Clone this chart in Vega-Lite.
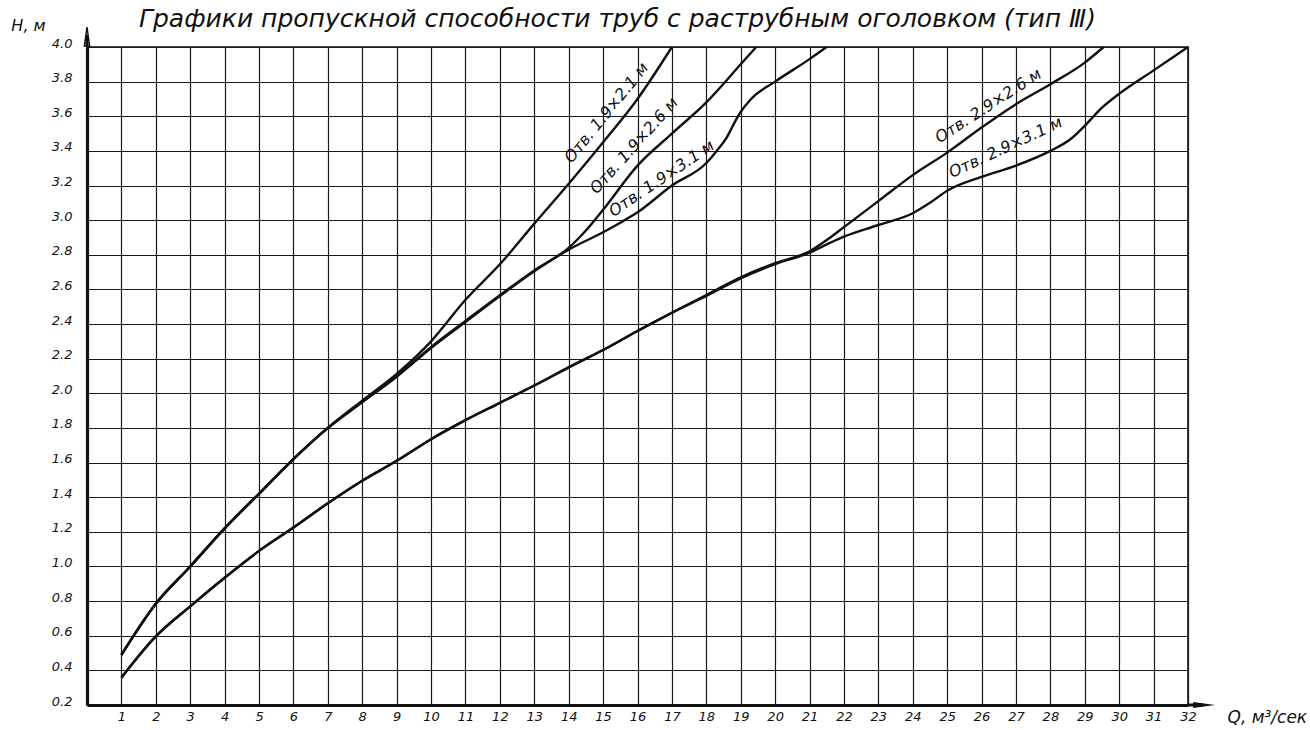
{
  "$schema": "https://vega.github.io/schema/vega-lite/v6.json",
  "width": 1101,
  "height": 658,
  "autosize": {"type": "none"},
  "padding": {"left": 87, "top": 47, "right": 122, "bottom": 25},
  "background": "white",
  "title": {
    "text": "Графики пропускной способности труб с раструбным оголовком (тип Ⅲ)",
    "font": "DejaVu Sans",
    "fontStyle": "italic",
    "fontWeight": "normal",
    "fontSize": 25,
    "color": "#111",
    "anchor": "middle",
    "dx": -20,
    "offset": -15
  },
  "config": {
    "view": {"stroke": "#111", "strokeWidth": 1.6},
    "font": "DejaVu Sans"
  },
  "datasets": {
    "curves": [
      {"series": "1.9x2.1", "Q": 1, "H": 0.49},
      {"series": "1.9x2.1", "Q": 2, "H": 0.785},
      {"series": "1.9x2.1", "Q": 3, "H": 1.0},
      {"series": "1.9x2.1", "Q": 4, "H": 1.22},
      {"series": "1.9x2.1", "Q": 5, "H": 1.42},
      {"series": "1.9x2.1", "Q": 6, "H": 1.62},
      {"series": "1.9x2.1", "Q": 7, "H": 1.8},
      {"series": "1.9x2.1", "Q": 8, "H": 1.958},
      {"series": "1.9x2.1", "Q": 9, "H": 2.112},
      {"series": "1.9x2.1", "Q": 10, "H": 2.3},
      {"series": "1.9x2.1", "Q": 11, "H": 2.54},
      {"series": "1.9x2.1", "Q": 12, "H": 2.745},
      {"series": "1.9x2.1", "Q": 13, "H": 2.98},
      {"series": "1.9x2.1", "Q": 14, "H": 3.21},
      {"series": "1.9x2.1", "Q": 15, "H": 3.45},
      {"series": "1.9x2.1", "Q": 16, "H": 3.7},
      {"series": "1.9x2.1", "Q": 17, "H": 4.0},

      {"series": "1.9x2.6", "Q": 1, "H": 0.49},
      {"series": "1.9x2.6", "Q": 2, "H": 0.785},
      {"series": "1.9x2.6", "Q": 3, "H": 1.0},
      {"series": "1.9x2.6", "Q": 4, "H": 1.22},
      {"series": "1.9x2.6", "Q": 5, "H": 1.42},
      {"series": "1.9x2.6", "Q": 6, "H": 1.62},
      {"series": "1.9x2.6", "Q": 7, "H": 1.8},
      {"series": "1.9x2.6", "Q": 8, "H": 1.952},
      {"series": "1.9x2.6", "Q": 9, "H": 2.1},
      {"series": "1.9x2.6", "Q": 10, "H": 2.267},
      {"series": "1.9x2.6", "Q": 11, "H": 2.418},
      {"series": "1.9x2.6", "Q": 12, "H": 2.567},
      {"series": "1.9x2.6", "Q": 13, "H": 2.71},
      {"series": "1.9x2.6", "Q": 14, "H": 2.84},
      {"series": "1.9x2.6", "Q": 14.5, "H": 2.94},
      {"series": "1.9x2.6", "Q": 15, "H": 3.06},
      {"series": "1.9x2.6", "Q": 16, "H": 3.315},
      {"series": "1.9x2.6", "Q": 17, "H": 3.5},
      {"series": "1.9x2.6", "Q": 18, "H": 3.68},
      {"series": "1.9x2.6", "Q": 19, "H": 3.9},
      {"series": "1.9x2.6", "Q": 19.45, "H": 4.0},

      {"series": "1.9x3.1", "Q": 1, "H": 0.49},
      {"series": "1.9x3.1", "Q": 2, "H": 0.785},
      {"series": "1.9x3.1", "Q": 3, "H": 1.0},
      {"series": "1.9x3.1", "Q": 4, "H": 1.22},
      {"series": "1.9x3.1", "Q": 5, "H": 1.42},
      {"series": "1.9x3.1", "Q": 6, "H": 1.62},
      {"series": "1.9x3.1", "Q": 7, "H": 1.8},
      {"series": "1.9x3.1", "Q": 8, "H": 1.948},
      {"series": "1.9x3.1", "Q": 9, "H": 2.096},
      {"series": "1.9x3.1", "Q": 10, "H": 2.262},
      {"series": "1.9x3.1", "Q": 11, "H": 2.412},
      {"series": "1.9x3.1", "Q": 12, "H": 2.562},
      {"series": "1.9x3.1", "Q": 13, "H": 2.705},
      {"series": "1.9x3.1", "Q": 14, "H": 2.83},
      {"series": "1.9x3.1", "Q": 15, "H": 2.93},
      {"series": "1.9x3.1", "Q": 15.5, "H": 2.985},
      {"series": "1.9x3.1", "Q": 16, "H": 3.045},
      {"series": "1.9x3.1", "Q": 17, "H": 3.2},
      {"series": "1.9x3.1", "Q": 18, "H": 3.33},
      {"series": "1.9x3.1", "Q": 18.3, "H": 3.4},
      {"series": "1.9x3.1", "Q": 18.6, "H": 3.48},
      {"series": "1.9x3.1", "Q": 18.85, "H": 3.575},
      {"series": "1.9x3.1", "Q": 19, "H": 3.625},
      {"series": "1.9x3.1", "Q": 19.3, "H": 3.7},
      {"series": "1.9x3.1", "Q": 20, "H": 3.8},
      {"series": "1.9x3.1", "Q": 21, "H": 3.93},
      {"series": "1.9x3.1", "Q": 21.5, "H": 4.0},

      {"series": "2.9x2.6", "Q": 1, "H": 0.358},
      {"series": "2.9x2.6", "Q": 2, "H": 0.596},
      {"series": "2.9x2.6", "Q": 3, "H": 0.77},
      {"series": "2.9x2.6", "Q": 4, "H": 0.935},
      {"series": "2.9x2.6", "Q": 5, "H": 1.09},
      {"series": "2.9x2.6", "Q": 6, "H": 1.225},
      {"series": "2.9x2.6", "Q": 7, "H": 1.365},
      {"series": "2.9x2.6", "Q": 8, "H": 1.495},
      {"series": "2.9x2.6", "Q": 9, "H": 1.61},
      {"series": "2.9x2.6", "Q": 10, "H": 1.735},
      {"series": "2.9x2.6", "Q": 11, "H": 1.845},
      {"series": "2.9x2.6", "Q": 12, "H": 1.945},
      {"series": "2.9x2.6", "Q": 13, "H": 2.045},
      {"series": "2.9x2.6", "Q": 14, "H": 2.15},
      {"series": "2.9x2.6", "Q": 15, "H": 2.25},
      {"series": "2.9x2.6", "Q": 16, "H": 2.36},
      {"series": "2.9x2.6", "Q": 17, "H": 2.465},
      {"series": "2.9x2.6", "Q": 18, "H": 2.568},
      {"series": "2.9x2.6", "Q": 19, "H": 2.67},
      {"series": "2.9x2.6", "Q": 20, "H": 2.752},
      {"series": "2.9x2.6", "Q": 21, "H": 2.82},
      {"series": "2.9x2.6", "Q": 21.5, "H": 2.885},
      {"series": "2.9x2.6", "Q": 22, "H": 2.96},
      {"series": "2.9x2.6", "Q": 23, "H": 3.11},
      {"series": "2.9x2.6", "Q": 24, "H": 3.26},
      {"series": "2.9x2.6", "Q": 25, "H": 3.39},
      {"series": "2.9x2.6", "Q": 26, "H": 3.535},
      {"series": "2.9x2.6", "Q": 27, "H": 3.67},
      {"series": "2.9x2.6", "Q": 28, "H": 3.785},
      {"series": "2.9x2.6", "Q": 29, "H": 3.91},
      {"series": "2.9x2.6", "Q": 29.55, "H": 4.0},

      {"series": "2.9x3.1", "Q": 1, "H": 0.358},
      {"series": "2.9x3.1", "Q": 2, "H": 0.596},
      {"series": "2.9x3.1", "Q": 3, "H": 0.77},
      {"series": "2.9x3.1", "Q": 4, "H": 0.935},
      {"series": "2.9x3.1", "Q": 5, "H": 1.09},
      {"series": "2.9x3.1", "Q": 6, "H": 1.225},
      {"series": "2.9x3.1", "Q": 7, "H": 1.365},
      {"series": "2.9x3.1", "Q": 8, "H": 1.495},
      {"series": "2.9x3.1", "Q": 9, "H": 1.61},
      {"series": "2.9x3.1", "Q": 10, "H": 1.735},
      {"series": "2.9x3.1", "Q": 11, "H": 1.845},
      {"series": "2.9x3.1", "Q": 12, "H": 1.945},
      {"series": "2.9x3.1", "Q": 13, "H": 2.045},
      {"series": "2.9x3.1", "Q": 14, "H": 2.15},
      {"series": "2.9x3.1", "Q": 15, "H": 2.25},
      {"series": "2.9x3.1", "Q": 16, "H": 2.36},
      {"series": "2.9x3.1", "Q": 17, "H": 2.465},
      {"series": "2.9x3.1", "Q": 18, "H": 2.563},
      {"series": "2.9x3.1", "Q": 19, "H": 2.664},
      {"series": "2.9x3.1", "Q": 20, "H": 2.746},
      {"series": "2.9x3.1", "Q": 21, "H": 2.812},
      {"series": "2.9x3.1", "Q": 21.5, "H": 2.86},
      {"series": "2.9x3.1", "Q": 22, "H": 2.905},
      {"series": "2.9x3.1", "Q": 23, "H": 2.972},
      {"series": "2.9x3.1", "Q": 24, "H": 3.04},
      {"series": "2.9x3.1", "Q": 24.5, "H": 3.1},
      {"series": "2.9x3.1", "Q": 25, "H": 3.17},
      {"series": "2.9x3.1", "Q": 26, "H": 3.25},
      {"series": "2.9x3.1", "Q": 27, "H": 3.315},
      {"series": "2.9x3.1", "Q": 28, "H": 3.4},
      {"series": "2.9x3.1", "Q": 28.6, "H": 3.47},
      {"series": "2.9x3.1", "Q": 29, "H": 3.545},
      {"series": "2.9x3.1", "Q": 29.5, "H": 3.65},
      {"series": "2.9x3.1", "Q": 30, "H": 3.73},
      {"series": "2.9x3.1", "Q": 31, "H": 3.865},
      {"series": "2.9x3.1", "Q": 32, "H": 4.0}
    ],
    "labels": [
      {"label": "Отв. 1.9×2.1 м", "Q": 15.1, "H": 3.62},
      {"label": "Отв. 1.9×2.6 м", "Q": 15.9, "H": 3.43},
      {"label": "Отв. 1.9×3.1 м", "Q": 16.7, "H": 3.24},
      {"label": "Отв. 2.9×2.6 м", "Q": 26.2, "H": 3.66},
      {"label": "Отв. 2.9×3.1 м", "Q": 26.7, "H": 3.42}
    ],
    "xarrow": [{"Q": 32, "Q2": 32.45, "H": 0.2}],
    "xhead": [{"Q": 32.47, "H": 0.2}],
    "yarrow": [{"Q": 0, "H": 4.0, "H2": 4.07}],
    "yhead": [{"Q": 0, "H": 4.06}]
  },
  "layer": [
    {
      "data": {"name": "curves"},
      "mark": {"type": "line", "interpolate": "monotone", "color": "#111", "strokeWidth": 2.4},
      "encoding": {
        "x": {
          "field": "Q", "type": "quantitative",
          "scale": {"domain": [0, 32], "nice": false, "zero": false},
          "axis": {
            "values": [1,2,3,4,5,6,7,8,9,10,11,12,13,14,15,16,17,18,19,20,21,22,23,24,25,26,27,28,29,30,31,32],
            "tickCount": 64,
            "format": "d",
            "grid": true, "gridColor": "#1a1a1a", "gridWidth": 1.2, "gridOpacity": 1,
            "ticks": false, "domainColor": "#111", "domainWidth": 3.2,
            "labelFont": "DejaVu Sans", "labelFontStyle": "italic", "labelFontSize": 13, "labelColor": "#111",
            "labelPadding": 5, "labelFlush": false, "labelOverlap": false,
            "title": "Q, м³/сек", "titleFont": "DejaVu Sans", "titleFontStyle": "italic", "titleFontWeight": "normal",
            "titleFontSize": 17, "titleColor": "#111", "titleAlign": "left", "titleAnchor": null,
            "titleX": 1140, "titleY": 12, "titleBaseline": "middle"
          }
        },
        "y": {
          "field": "H", "type": "quantitative",
          "scale": {"domain": [0.2, 4.0], "nice": false, "zero": false},
          "axis": {
            "values": [0.2,0.4,0.6,0.8,1.0,1.2,1.4,1.6,1.8,2.0,2.2,2.4,2.6,2.8,3.0,3.2,3.4,3.6,3.8,4.0],
            "tickCount": 40,
            "format": ".1f",
            "grid": true, "gridColor": "#1a1a1a", "gridWidth": 1.2, "gridOpacity": 1,
            "ticks": false, "domainColor": "#111", "domainWidth": 3.2,
            "labelFont": "DejaVu Sans", "labelFontStyle": "italic", "labelFontSize": 13, "labelColor": "#111",
            "labelPadding": 15, "labelBaseline": "alphabetic", "labelFlush": false, "labelOverlap": false,
            "title": "H, м", "titleFont": "DejaVu Sans", "titleFontStyle": "italic", "titleFontWeight": "normal",
            "titleFontSize": 16, "titleColor": "#111", "titleAngle": 0, "titleAlign": "center", "titleAnchor": null,
            "titleX": -59, "titleY": -22, "titleBaseline": "middle"
          }
        },
        "detail": {"field": "series", "type": "nominal"}
      }
    },
    {
      "data": {"name": "xarrow"},
      "mark": {"type": "rule", "color": "#111", "strokeWidth": 3},
      "encoding": {
        "x": {"field": "Q", "type": "quantitative"},
        "x2": {"field": "Q2"},
        "y": {"field": "H", "type": "quantitative"}
      }
    },
    {
      "data": {"name": "xhead"},
      "mark": {"type": "point", "shape": "M-1,-0.28L1,0L-1,0.28Z", "size": 480, "filled": true, "color": "#111", "opacity": 1},
      "encoding": {
        "x": {"field": "Q", "type": "quantitative"},
        "y": {"field": "H", "type": "quantitative"}
      }
    },
    {
      "data": {"name": "yarrow"},
      "mark": {"type": "rule", "color": "#111", "strokeWidth": 3},
      "encoding": {
        "x": {"field": "Q", "type": "quantitative"},
        "y": {"field": "H", "type": "quantitative"},
        "y2": {"field": "H2"}
      }
    },
    {
      "data": {"name": "yhead"},
      "mark": {"type": "point", "shape": "M0,-1L0.28,1L-0.28,1Z", "size": 360, "filled": false, "strokeWidth": 1.4, "color": "#111", "opacity": 1},
      "encoding": {
        "x": {"field": "Q", "type": "quantitative"},
        "y": {"field": "H", "type": "quantitative"}
      }
    },
    {
      "data": {"name": "labels"},
      "transform": [{"filter": "datum.label === 'Отв. 1.9×2.1 м'"}],
      "mark": {"type": "text", "font": "DejaVu Sans", "fontStyle": "italic", "fontSize": 16, "color": "#111", "angle": -51, "align": "center", "baseline": "middle"},
      "encoding": {"x": {"field": "Q", "type": "quantitative"}, "y": {"field": "H", "type": "quantitative"}, "text": {"field": "label"}}
    },
    {
      "data": {"name": "labels"},
      "transform": [{"filter": "datum.label === 'Отв. 1.9×2.6 м'"}],
      "mark": {"type": "text", "font": "DejaVu Sans", "fontStyle": "italic", "fontSize": 16, "color": "#111", "angle": -48, "align": "center", "baseline": "middle"},
      "encoding": {"x": {"field": "Q", "type": "quantitative"}, "y": {"field": "H", "type": "quantitative"}, "text": {"field": "label"}}
    },
    {
      "data": {"name": "labels"},
      "transform": [{"filter": "datum.label === 'Отв. 1.9×3.1 м'"}],
      "mark": {"type": "text", "font": "DejaVu Sans", "fontStyle": "italic", "fontSize": 16, "color": "#111", "angle": -34, "align": "center", "baseline": "middle"},
      "encoding": {"x": {"field": "Q", "type": "quantitative"}, "y": {"field": "H", "type": "quantitative"}, "text": {"field": "label"}}
    },
    {
      "data": {"name": "labels"},
      "transform": [{"filter": "datum.label === 'Отв. 2.9×2.6 м'"}],
      "mark": {"type": "text", "font": "DejaVu Sans", "fontStyle": "italic", "fontSize": 16, "color": "#111", "angle": -33, "align": "center", "baseline": "middle"},
      "encoding": {"x": {"field": "Q", "type": "quantitative"}, "y": {"field": "H", "type": "quantitative"}, "text": {"field": "label"}}
    },
    {
      "data": {"name": "labels"},
      "transform": [{"filter": "datum.label === 'Отв. 2.9×3.1 м'"}],
      "mark": {"type": "text", "font": "DejaVu Sans", "fontStyle": "italic", "fontSize": 16, "color": "#111", "angle": -25, "align": "center", "baseline": "middle"},
      "encoding": {"x": {"field": "Q", "type": "quantitative"}, "y": {"field": "H", "type": "quantitative"}, "text": {"field": "label"}}
    }
  ]
}
